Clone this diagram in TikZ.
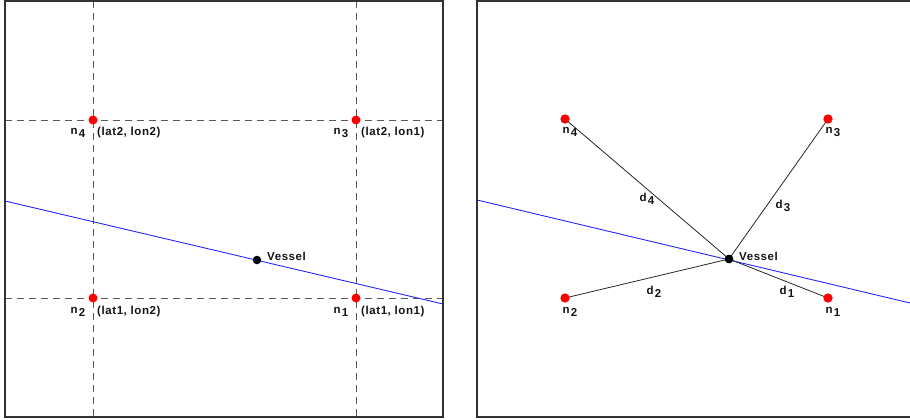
\documentclass[tikz,border=0pt]{standalone}
\usepackage{fontspec}
\setmainfont{Liberation Sans}[LetterSpace=5]
\newcommand\sublab[2]{#1\hspace{1.2pt}\raisebox{-3.5pt}{#2}}
\begin{document}
\begin{tikzpicture}[x=1pt,y=-1pt,
  frame/.style={draw=black!80,line width=2.2pt},
  grid/.style={draw=black!65,line width=0.9pt,dash pattern=on 7pt off 5pt},
  track/.style={draw=blue!85!white,line width=0.9pt},
  dist/.style={draw=black!85,line width=0.8pt},
  node/.style={circle,fill=red,inner sep=0pt,minimum size=9pt},
  ship/.style={circle,fill=black,inner sep=0pt,minimum size=8.5pt},
  txt/.style={font=\fontsize{11.5}{13}\selectfont\bfseries,inner sep=0pt,text=black!92}]
\useasboundingbox (0,0) rectangle (910,420);
% ---------- left panel ----------
\coordinate (L1) at (5,1);
\coordinate (L2) at (443,417);
\draw[grid] (93,1) -- (93,417);
\draw[grid] (356,1) -- (356,417);
\draw[grid] (5,120) -- (443,120);
\draw[grid] (5,298) -- (443,298);
\coordinate (la) at (5,201);
\coordinate (lb) at (443,304);
\draw[track] (la) -- (lb);
\node[node] (a4) at (93,120) {};
\node[node] (a3) at (356,120) {};
\node[node] (a2) at (93,298) {};
\node[node] (a1) at (356,298) {};
\node[ship] (av) at (257,260) {};
\node[txt] (an4) at (78,133) {\sublab{n}{4}};
\node[txt,anchor=west] (ac4) at (97,133) {(lat2, lon2)};
\node[txt] (an3) at (341,133) {\sublab{n}{3}};
\node[txt,anchor=west] (ac3) at (361,133) {(lat2, lon1)};
\node[txt] (an2) at (78,312) {\sublab{n}{2}};
\node[txt,anchor=west] (ac2) at (97,312) {(lat1, lon2)};
\node[txt] (an1) at (341,312) {\sublab{n}{1}};
\node[txt,anchor=west] (ac1) at (361,312) {(lat1, lon1)};
\node[txt,anchor=west] (avl) at (267,256) {Vessel};
\draw[frame] (L1) rectangle (L2);
% ---------- right panel ----------
\coordinate (ra) at (477,200);
\coordinate (rb) at (910,303);
\draw[track] (ra) -- (rb);
\node[node] (b4) at (565,119) {};
\node[node] (b3) at (828,119) {};
\node[node] (b2) at (565,298) {};
\node[node] (b1) at (828,298) {};
\node[ship] (bv) at (729,259) {};
\draw[dist] (bv.center) -- (b4.center);
\draw[dist] (bv.center) -- (b3.center);
\draw[dist] (bv.center) -- (b2.center);
\draw[dist] (bv.center) -- (b1.center);
\node[node] at (b4) {};
\node[node] at (b3) {};
\node[node] at (b2) {};
\node[node] at (b1) {};
\node[ship] at (bv) {};
\node[txt] (bn4) at (570,132) {\sublab{n}{4}};
\node[txt] (bn3) at (833,132) {\sublab{n}{3}};
\node[txt] (bn2) at (570,312) {\sublab{n}{2}};
\node[txt] (bn1) at (833,312) {\sublab{n}{1}};
\node[txt] (bd4) at (647,199) {\sublab{d}{4}};
\node[txt] (bd3) at (783,206) {\sublab{d}{3}};
\node[txt] (bd2) at (654,292) {\sublab{d}{2}};
\node[txt] (bd1) at (787,292) {\sublab{d}{1}};
\node[txt,anchor=west] (bvl) at (739,256) {Vessel};
\coordinate (R1) at (911,1);
\coordinate (R2) at (477,1);
\coordinate (R3) at (477,417);
\coordinate (R4) at (911,417);
\draw[frame] (R1) -- (R2) -- (R3) -- (R4);
\end{tikzpicture}
\end{document}
